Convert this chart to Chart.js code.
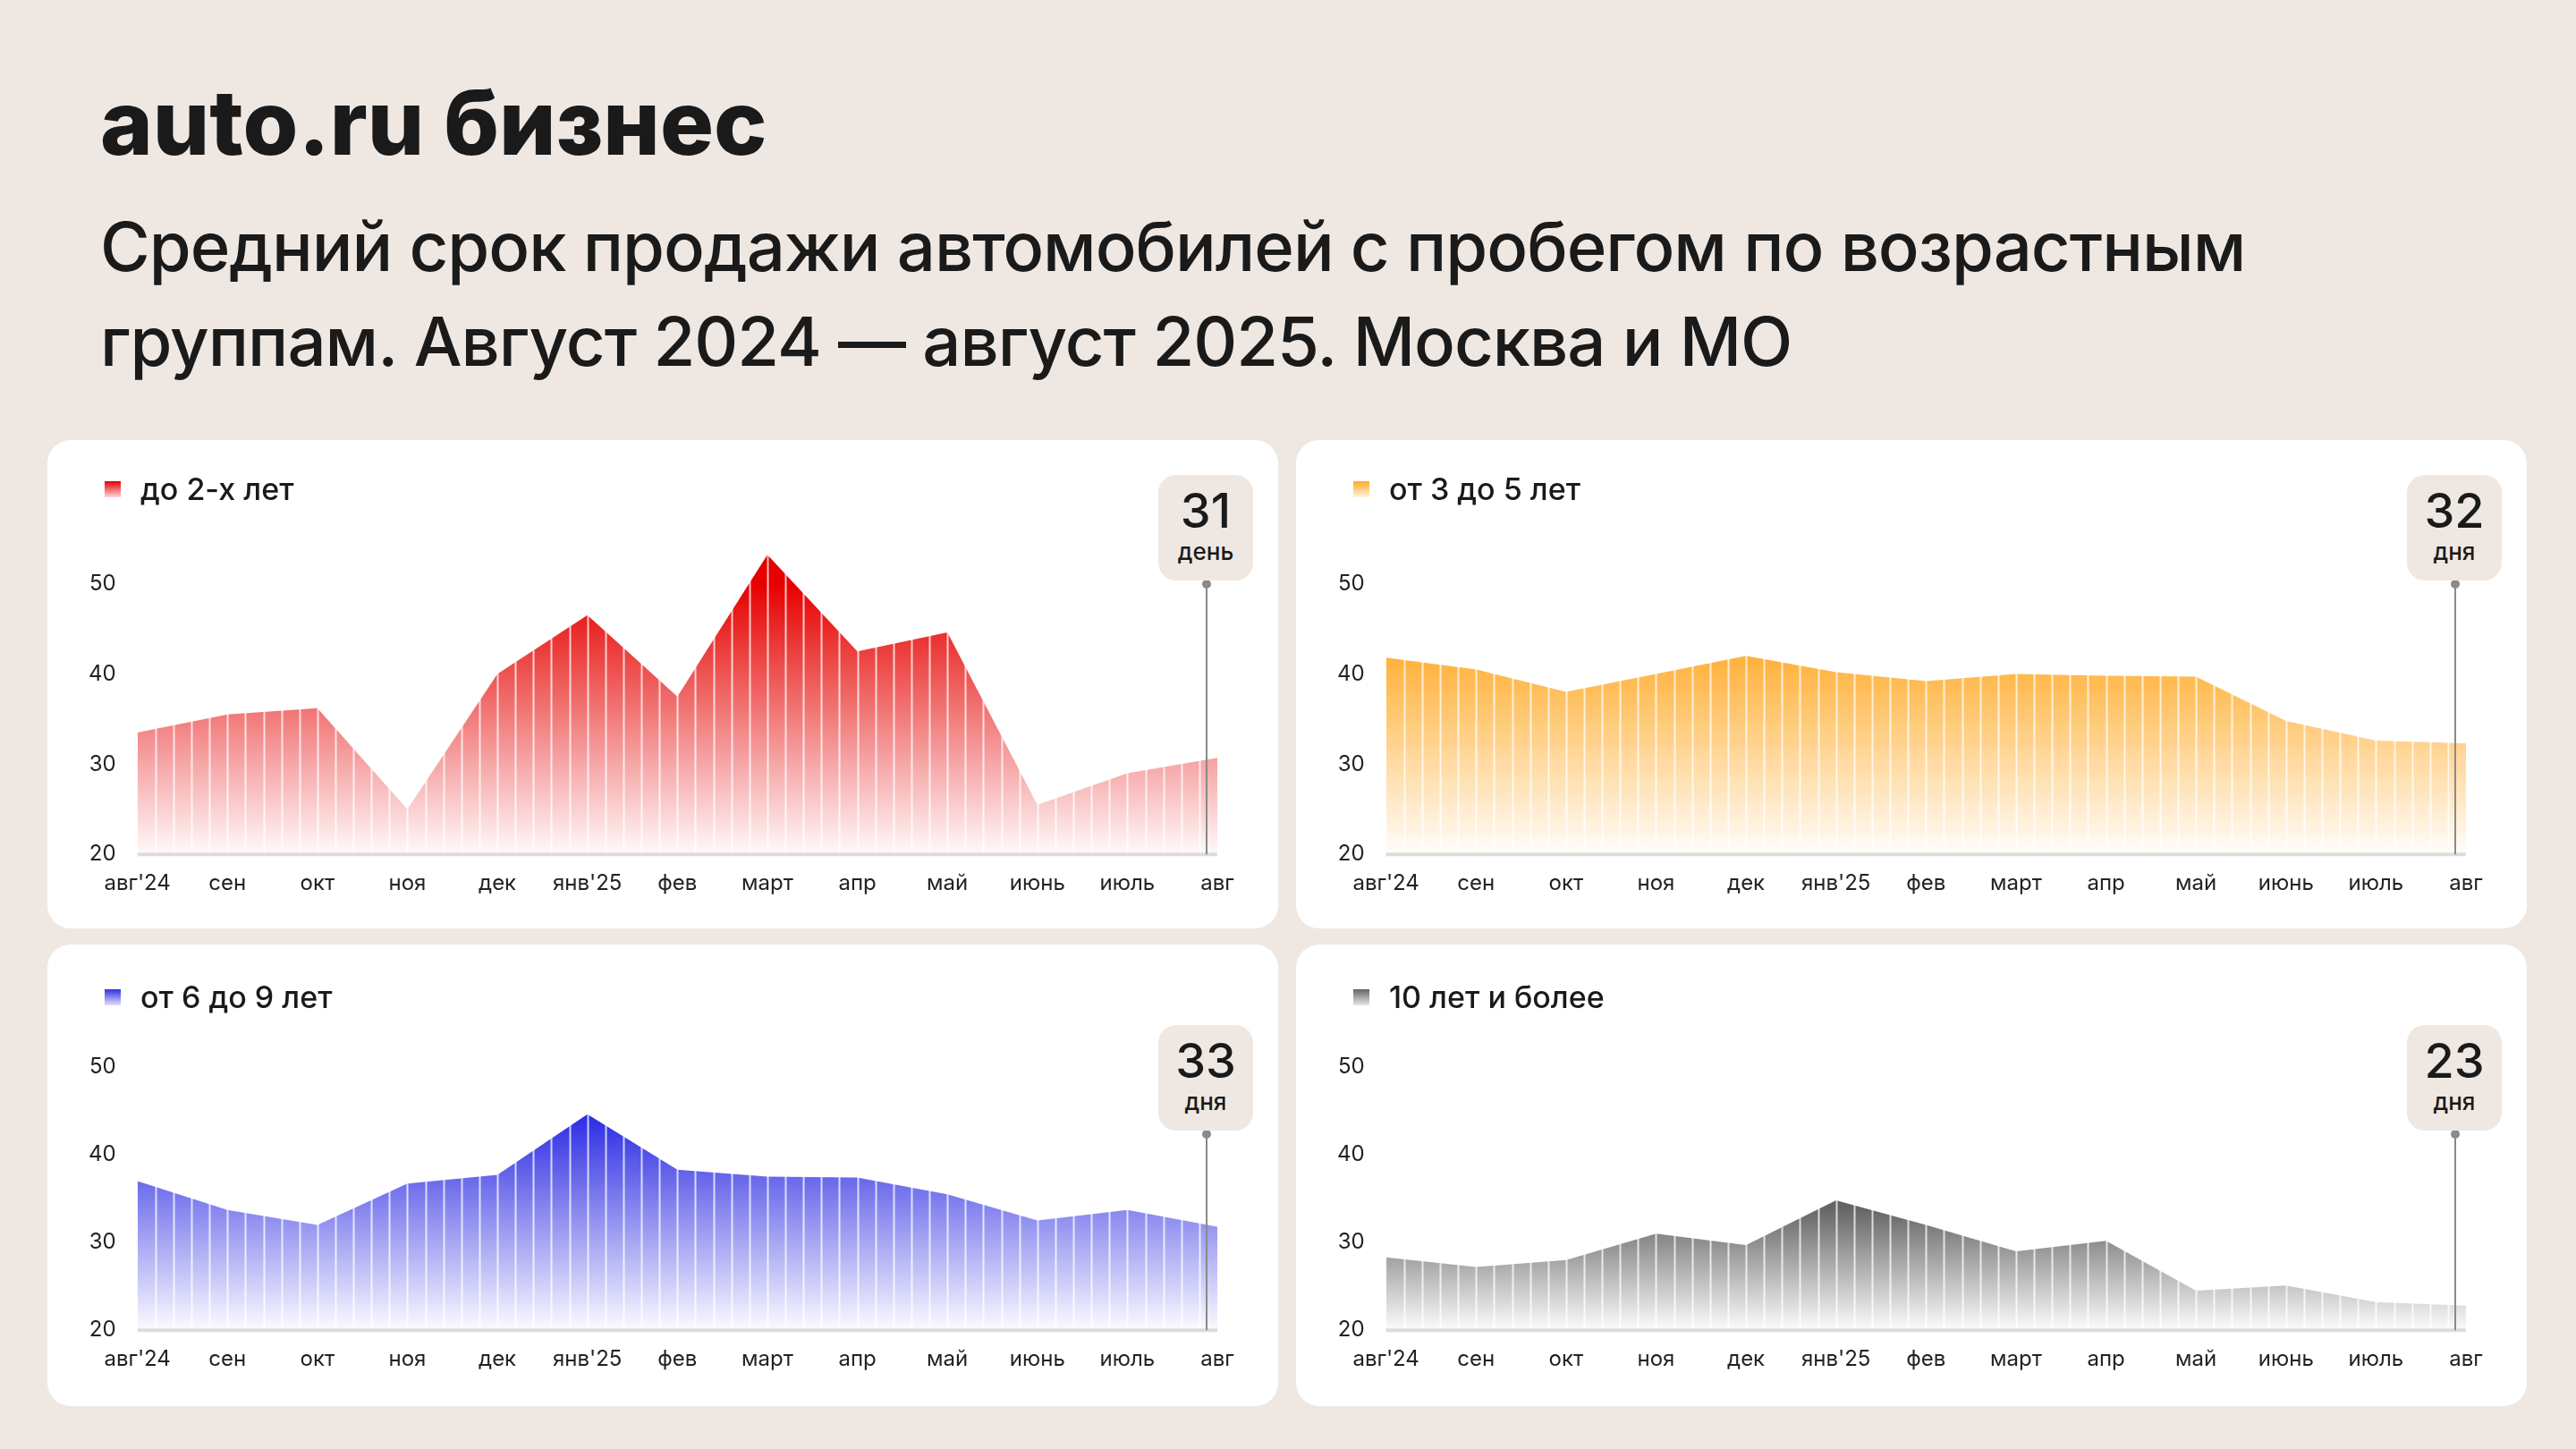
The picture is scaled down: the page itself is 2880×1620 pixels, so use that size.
<!DOCTYPE html>
<html><head><meta charset="utf-8">
<script src="https://cdn.jsdelivr.net/npm/chart.js@4.4.1/dist/chart.umd.min.js"></script>
<style>
body{margin:0;width:2880px;height:1620px;background:#efe8e2;font-family:Inter,"Noto Sans",sans-serif;color:#1a1a1a;position:relative;overflow:hidden}
h1{position:absolute;left:112px;top:76px;margin:0;font-size:100px;font-weight:800;letter-spacing:0px}
h2{position:absolute;left:112px;top:222px;margin:0;font-size:76px;font-weight:500;line-height:106px;letter-spacing:-1px}
.card{position:absolute;width:1376px;background:#fff;border-radius:26px}
.card canvas{position:absolute;left:0;top:0}
.legend{position:absolute;left:64px;top:34px;font-size:34px;font-weight:500;display:flex;align-items:center}
.legend i{display:inline-block;width:18px;height:18px;margin-right:22px}
.badge{position:absolute;width:106px;height:118px;background:#efe8e2;border-radius:20px;text-align:center}
.badge b{display:block;font-size:54px;font-weight:500;margin-top:10px;line-height:60px}
.badge span{font-size:26px;font-weight:500}
</style></head><body>
<h1>auto.ru бизнес</h1>
<h2>Средний срок продажи автомобилей с пробегом по возрастным<br>группам. Август 2024 — август 2025. Москва и МО</h2>
<div id="root"></div>
<script>
const months = ["авг'24","сен","окт","ноя","дек","янв'25","фев","март","апр","май","июнь","июль","авг"];
const yTicks = [20, 30, 40, 50];
const upTo2 = [33.5, 35.5, 36.2, 25.0, 40.0, 46.5, 37.5, 53.2, 42.5, 44.6, 25.5, 29.0, 30.7];
const from3to5 = [41.8, 40.5, 38.0, 40.0, 42.0, 40.2, 39.2, 40.0, 39.8, 39.7, 34.8, 32.6, 32.3];
const from6to9 = [37.0, 33.7, 32.0, 36.7, 37.7, 44.6, 38.3, 37.5, 37.4, 35.5, 32.5, 33.7, 31.8];
const over10 = [28.3, 27.2, 28.0, 31.0, 29.7, 34.8, 32.0, 29.0, 30.2, 24.5, 25.1, 23.2, 22.8];
const badges = ['31', '32', '33', '23'];
const badgeUnits = ['день', 'дня', 'дня', 'дня'];

const panels = [
  {label: 'до 2-х лет', data: upTo2, color: [230, 0, 0], x: 53, y: 492, h: 546, top: 100, gTop: 50},
  {label: 'от 3 до 5 лет', data: from3to5, color: [255, 170, 40], x: 1449, y: 492, h: 546, top: 100, gTop: 44},
  {label: 'от 6 до 9 лет', data: from6to9, color: [48, 48, 228], x: 53, y: 1056, h: 516, top: 78, gTop: 44},
  {label: '10 лет и более', data: over10, color: [100, 100, 100], x: 1449, y: 1056, h: 516, top: 78, gTop: 34}
];

// thin white stripes over the filled area + marker line to the badge
const stripes = {
  id: 'stripes',
  afterDatasetsDraw(chart) {
    const {ctx, chartArea: a, scales} = chart;
    ctx.save();
    ctx.globalCompositeOperation = 'source-atop';
    ctx.strokeStyle = 'rgba(255,255,255,0.75)';
    ctx.lineWidth = 2;
    const n = 60, step = (a.right - a.left) / n;
    for (let i = 1; i < n; i++) {
      const x = Math.round(a.left + i * step) + 0.5;
      ctx.beginPath(); ctx.moveTo(x, a.top); ctx.lineTo(x, a.bottom); ctx.stroke();
    }
    ctx.restore();
    ctx.save();
    ctx.strokeStyle = '#dcdcdc'; ctx.lineWidth = 4;
    ctx.beginPath(); ctx.moveTo(a.left, scales.y.getPixelForValue(20)); ctx.lineTo(a.right, scales.y.getPixelForValue(20)); ctx.stroke();
    const lx = scales.x.getPixelForValue(months.length - 1) - 12;
    const top = chart.options.plugins.stripes.top;
    ctx.strokeStyle = '#8a8a8a'; ctx.lineWidth = 2;
    ctx.beginPath(); ctx.moveTo(lx, top); ctx.lineTo(lx, scales.y.getPixelForValue(20)); ctx.stroke();
    ctx.fillStyle = '#8a8a8a';
    ctx.beginPath(); ctx.arc(lx, top, 5, 0, Math.PI * 2); ctx.fill();
    ctx.restore();
  }
};

const root = document.getElementById('root');
panels.forEach((p, i) => {
  const card = document.createElement('div');
  card.className = 'card';
  card.style.left = p.x + 'px'; card.style.top = p.y + 'px'; card.style.height = p.h + 'px';
  const [r, g, b] = p.color;
  const badgeTop = i < 2 ? 39 : 90;
  card.innerHTML = `<div class="legend" style="top:${i < 2 ? 34 : 38}px"><i style="background:linear-gradient(rgb(${r},${g},${b}),rgba(${r},${g},${b},0.15))"></i>${p.label}</div>
    <div class="badge" style="left:1242px;top:${badgeTop}px"><b>${badges[i]}</b><span>${badgeUnits[i]}</span></div>`;
  const cv = document.createElement('canvas');
  cv.width = 1376; cv.height = p.h;
  cv.style.width = '1376px'; cv.style.height = p.h + 'px';
  card.prepend(cv);
  root.appendChild(card);

  new Chart(cv.getContext('2d'), {
    type: 'line',
    data: {
      labels: months,
      datasets: [{
        data: p.data,
        borderWidth: 0,
        pointRadius: 0,
        tension: 0,
        fill: 'start',
        backgroundColor: (c) => {
          const a = c.chart.chartArea;
          if (!a) return `rgba(${r},${g},${b},0.5)`;
          const ys = c.chart.scales.y;
          const gr = c.chart.ctx.createLinearGradient(0, ys.getPixelForValue(p.gTop), 0, a.bottom);
          gr.addColorStop(0, `rgba(${r},${g},${b},1)`);
          gr.addColorStop(1, `rgba(${r},${g},${b},0.02)`);
          return gr;
        }
      }]
    },
    options: {
      responsive: false,
      animation: false,
      devicePixelRatio: 1,
      layout: {padding: {left: 30, right: 68, top: p.top, bottom: i < 2 ? 26 : 28}},
      plugins: {legend: {display: false}, tooltip: {enabled: false}, stripes: {top: badgeTop + 122}},
      scales: {
        x: {
          grid: {display: false}, border: {display: false},
          ticks: {color: '#222', font: {size: 24, family: 'Inter'}, maxRotation: 0, autoSkip: false, padding: 10}
        },
        y: {
          min: 20, max: 56,
          afterBuildTicks: (s) => { s.ticks = yTicks.map(v => ({value: v})); },
          grid: {display: false}, border: {display: false},
          ticks: {color: '#222', font: {size: 24, family: 'Inter'}, padding: 16}
        }
      }
    },
    plugins: [stripes]
  });
});
</script>
</body></html>
